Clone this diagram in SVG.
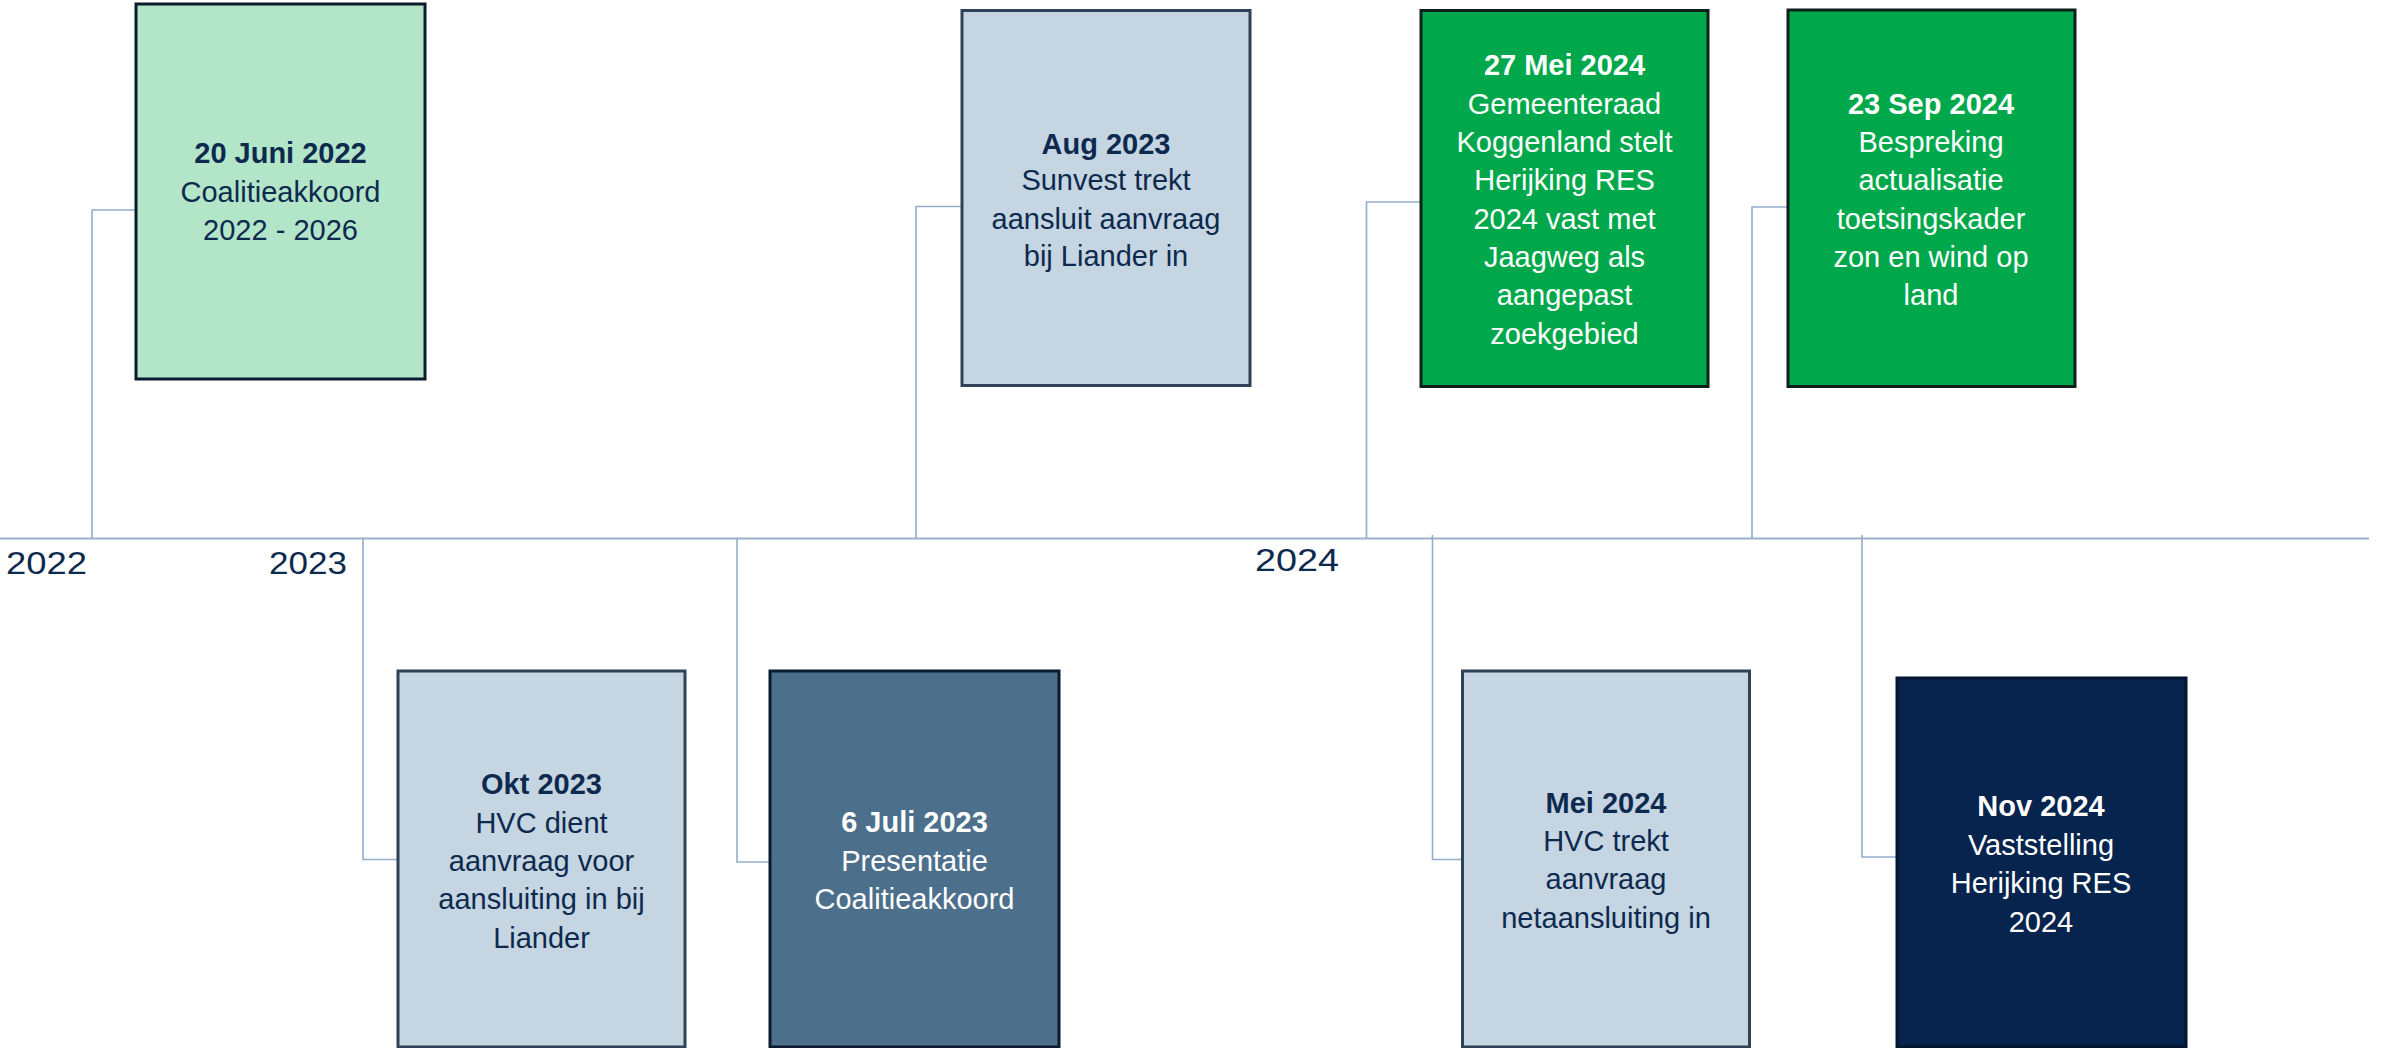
<svg xmlns="http://www.w3.org/2000/svg" width="2399" height="1048" viewBox="0 0 2399 1048">
<style>
text{font-family:"Liberation Sans",Arial,sans-serif;font-size:29px;text-anchor:middle}
.b{font-weight:bold}
.dk{fill:#0d2a4e}
.wt{fill:#ffffff}
.yr{font-size:31px;text-anchor:start;fill:#0d2a4e}
.conn{fill:none;stroke:#93aecb;stroke-width:1.6}
.axis{stroke:#9ab2c8;stroke-width:2.2}
.mint{fill:#b3e5c9;stroke:#0b1b2e;stroke-width:3}
.pale{fill:#c5d5e2;stroke:#2f4256;stroke-width:3}
.steel{fill:#4c6f8c;stroke:#0b1b2e;stroke-width:3}
.green{fill:#00a84b;stroke:#0d1f1a;stroke-width:3}
.navy{fill:#06244d;stroke:#031530;stroke-width:3}
</style>
<g id="connectors">
<line class="axis" x1="0" y1="538.5" x2="2369" y2="538.5"/>
<polyline class="conn" points="92,538 92,210 135,210"/>
<polyline class="conn" points="916,538 916,206.5 962,206.5"/>
<polyline class="conn" points="1366.5,538 1366.5,202 1421,202"/>
<polyline class="conn" points="1752,538 1752,207 1788,207"/>
<polyline class="conn" points="363,538 363,859.5 398,859.5"/>
<polyline class="conn" points="737,538 737,862 770,862"/>
<polyline class="conn" points="1432.5,535 1432.5,859.5 1462,859.5"/>
<polyline class="conn" points="1862,535 1862,857 1896,857"/>
</g>
<g id="years">
<text class="yr" x="6" y="574" textLength="81" lengthAdjust="spacingAndGlyphs">2022</text>
<text class="yr" x="269" y="574" textLength="78" lengthAdjust="spacingAndGlyphs">2023</text>
<text class="yr" x="1255" y="571" textLength="84" lengthAdjust="spacingAndGlyphs">2024</text>
</g>
<g id="n-juni2022">
<rect class="mint" x="136" y="4" width="289" height="375"/>
<text class="dk" x="280.5"><tspan class="b" x="280.5" y="163">20 Juni 2022</tspan><tspan x="280.5" y="201.5">Coalitieakkoord</tspan><tspan x="280.5" y="240">2022 - 2026</tspan></text>
</g>
<g id="n-aug2023">
<rect class="pale" x="962" y="10.5" width="288" height="375"/>
<text class="dk"><tspan class="b" x="1106" y="153.5">Aug 2023</tspan><tspan x="1106" y="190">Sunvest trekt</tspan><tspan x="1106" y="228.5">aansluit aanvraag</tspan><tspan x="1106" y="266">bij Liander in</tspan></text>
</g>
<g id="n-mei2024-raad">
<rect class="green" x="1421" y="10.5" width="287" height="376"/>
<text class="wt"><tspan class="b" x="1564.5" y="75">27 Mei 2024</tspan><tspan x="1564.5" y="113.5">Gemeenteraad</tspan><tspan x="1564.5" y="152">Koggenland stelt</tspan><tspan x="1564.5" y="190">Herijking RES</tspan><tspan x="1564.5" y="228.5">2024 vast met</tspan><tspan x="1564.5" y="266.5">Jaagweg als</tspan><tspan x="1564.5" y="305">aangepast</tspan><tspan x="1564.5" y="343.5">zoekgebied</tspan></text>
</g>
<g id="n-sep2024">
<rect class="green" x="1788" y="10" width="287" height="376.5"/>
<text class="wt"><tspan class="b" x="1931" y="113.5">23 Sep 2024</tspan><tspan x="1931" y="152">Bespreking</tspan><tspan x="1931" y="190">actualisatie</tspan><tspan x="1931" y="228.5">toetsingskader</tspan><tspan x="1931" y="266.5">zon en wind op</tspan><tspan x="1931" y="305">land</tspan></text>
</g>
<g id="n-okt2023">
<rect class="pale" x="398" y="671" width="287" height="376"/>
<text class="dk"><tspan class="b" x="541.5" y="794">Okt 2023</tspan><tspan x="541.5" y="832.5">HVC dient</tspan><tspan x="541.5" y="871">aanvraag voor</tspan><tspan x="541.5" y="909">aansluiting in bij</tspan><tspan x="541.5" y="947.5">Liander</tspan></text>
</g>
<g id="n-juli2023">
<rect class="steel" x="770" y="671" width="289" height="376"/>
<text class="wt"><tspan class="b" x="914.5" y="832">6 Juli 2023</tspan><tspan x="914.5" y="870.5">Presentatie</tspan><tspan x="914.5" y="909">Coalitieakkoord</tspan></text>
</g>
<g id="n-mei2024-hvc">
<rect class="pale" x="1462.5" y="671" width="287" height="376"/>
<text class="dk"><tspan class="b" x="1606" y="812.5">Mei 2024</tspan><tspan x="1606" y="851">HVC trekt</tspan><tspan x="1606" y="889">aanvraag</tspan><tspan x="1606" y="927.5">netaansluiting in</tspan></text>
</g>
<g id="n-nov2024">
<rect class="navy" x="1897" y="678" width="289" height="369"/>
<text class="wt"><tspan class="b" x="2041" y="816">Nov 2024</tspan><tspan x="2041" y="854.5">Vaststelling</tspan><tspan x="2041" y="893">Herijking RES</tspan><tspan x="2041" y="931.5">2024</tspan></text>
</g>
</svg>
